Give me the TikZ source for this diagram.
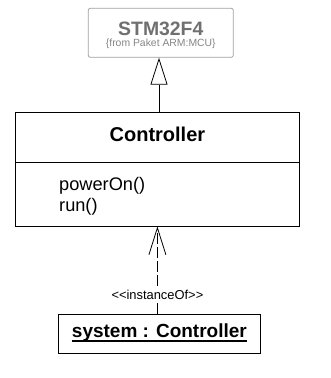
\documentclass[tikz,border=0pt]{standalone}
\usepackage{fontspec}
\usepackage{xcolor}
\usetikzlibrary{arrows.meta}
\newfontfamily\umlfont{Liberation Sans}
\definecolor{pkggray}{RGB}{112,112,112}
\definecolor{pkgline}{RGB}{160,160,160}

\begin{document}
\begin{tikzpicture}[x=1pt, y=-1pt,
    umlbox/.style={draw, line width=0.8pt, inner sep=0pt},
    umltext/.style={inner sep=0pt, font=\umlfont},
    inherit/.style={line width=0.8pt, -{Triangle[open, length=27pt, width=17pt]}},
    instance/.style={line width=0.8pt, dash pattern=on 11pt off 3pt, -{Straight Barb[length=27pt, width=17pt]}}]
            \useasboundingbox (0,0) rectangle (330,378);

            % Imported superclass
            \node[umlbox, draw=pkgline, rounded corners=2pt, minimum width=145pt, minimum height=49pt] (stm) at (160.8,32.8) {};
            \node[umltext, text=pkggray, font=\umlfont\bfseries\fontsize{19.4}{22}\selectfont] (stmName) at (160.8,29) {STM32F4};
            \node[umltext, text=pkggray!85, anchor=base, font=\umlfont\fontsize{10.4}{12}\selectfont] (stmPkg) at (160.8,46.6) {\{from Paket ARM:MCU\}};

            % Class
            \node[umlbox, minimum width=283.3pt, minimum height=113.7pt] (ctrl) at (157.4,169.2) {};
            \draw[line width=0.8pt] (ctrl.west |- 0,162) -- (ctrl.east |- 0,162);
            \node[umltext, font=\umlfont\bfseries\fontsize{20}{24}\selectfont] (ctrlName) at (157.4,134) {Controller};
            \node[umltext, anchor=base west, font=\umlfont\fontsize{18.2}{21}\selectfont] (opPower) at (59,190.5) {powerOn()};
            \node[umltext, anchor=base west, font=\umlfont\fontsize{18.2}{21}\selectfont] (opRun) at (59,211) {run()};

            % Object
            \node[umlbox, minimum width=202.4pt, minimum height=39pt] (sys) at (159.5,333.8) {};
            \node[umltext, anchor=base, font=\umlfont\bfseries\fontsize{19}{22}\selectfont] (sysName) at (159.4,337) {system : Controller};
            \draw[line width=1.1pt] ([yshift=-4pt]sysName.base west) -- ([yshift=-4pt]sysName.base east);

            % Relations
            \draw[inherit] (ctrl.north -| 159,0) -- (stm.south -| 159,0);
            \draw[instance] (sys.north -| ctrl.south) -- node[pos=0.22, fill=white, inner sep=1.5pt, font=\umlfont\fontsize{12.9}{15}\selectfont] (instLbl) {<<instanceOf>>} (ctrl.south);
        \end{tikzpicture}
\end{document}
